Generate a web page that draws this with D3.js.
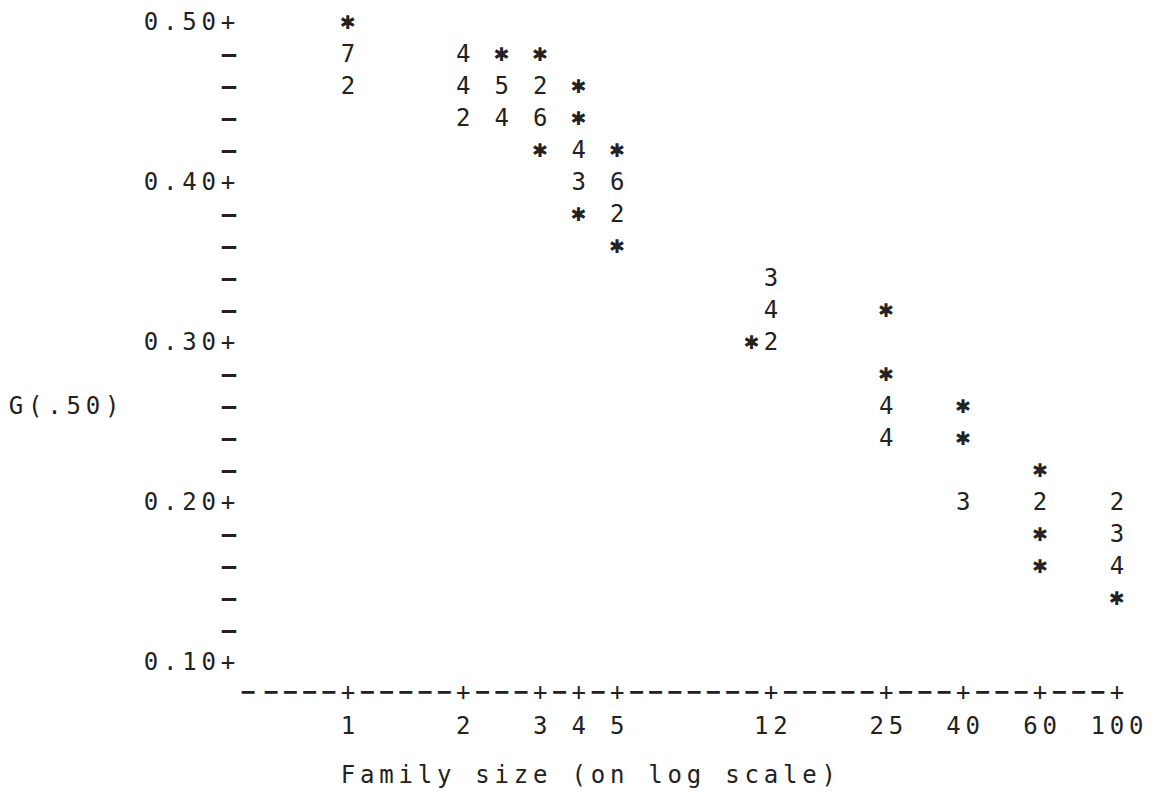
<!DOCTYPE html>
<html>
<head>
<meta charset="utf-8">
<script src="https://cdn.jsdelivr.net/npm/d3@7"></script>
<style>
  html, body { margin: 0; padding: 0; background: #ffffff; }
  svg { display: block; }
  text { font-family: "DejaVu Sans Mono", "Liberation Mono", monospace; fill: #222; }
</style>
</head>
<body>
<svg id="chart" width="1159" height="794"></svg>
<script>
// ---------- data ----------
// family size of each plotted position
const familySizes = [1, 1, 1,
  2, 2, 2,
  2.5, 2.5, 2.5,
  3, 3, 3, 3,
  4, 4, 4, 4, 4,
  5, 5, 5, 5,
  11, 12, 12, 12,
  25, 25, 25, 25,
  40, 40, 40,
  60, 60, 60, 60,
  100, 100, 100, 100];
// G(.50) value of each plotted position
const gValues = [0.50, 0.48, 0.46,
  0.48, 0.46, 0.44,
  0.48, 0.46, 0.44,
  0.48, 0.46, 0.44, 0.42,
  0.46, 0.44, 0.42, 0.40, 0.38,
  0.42, 0.40, 0.38, 0.36,
  0.30, 0.34, 0.32, 0.30,
  0.32, 0.28, 0.26, 0.24,
  0.26, 0.24, 0.20,
  0.22, 0.20, 0.18, 0.16,
  0.20, 0.18, 0.16, 0.14];
// number of coinciding observations (1 is printed as *)
const counts = [1, 7, 2,
  4, 4, 2,
  1, 5, 4,
  1, 2, 6, 1,
  1, 1, 4, 3, 1,
  1, 6, 2, 1,
  1, 3, 4, 2,
  1, 1, 4, 4,
  1, 1, 3,
  1, 2, 1, 1,
  2, 3, 4, 1];

const xTickValues = [1, 2, 3, 4, 5, 12, 25, 40, 60, 100];
const yTickValues = d3.range(10, 51, 2).map(v => v / 100);
const yTitle = "G(.50)";
const xTitle = "Family size (on log scale)";

// ---------- layout ----------
const FS = 24;              // font size
const CW = 19.225;          // printer column width
const COLS_PER_DECADE = 20;
const x0 = 348;             // column of family size 1
const yAxisX = 228;
const axisLineY = 692;

const svg = d3.select("#chart");

// log scale in printer columns, snapped to the character grid
const xCol = d3.scaleLog().domain([1, 100]).range([0, 2 * COLS_PER_DECADE]);
const colToPx = d3.scaleLinear().domain([0, 1]).range([x0, x0 + CW]);
const x = v => colToPx(Math.round(xCol(v)));

const y = d3.scaleLinear().domain([0.10, 0.50]).range([662, 22]);

// helper: put a string on the character grid
function gridChars(str, cx, cy, align) {
  const n = str.length;
  let start;
  if (align === "end") start = cx - (n - 1) * CW;
  else if (align === "start") start = cx;
  else start = cx - (n - 1) * CW / 2;
  return str.split("").map((ch, i) => ({ ch, x: start + i * CW, y: cy }));
}
function drawChars(g, items, cls) {
  g.selectAll("text." + cls)
    .data(items)
    .join("text")
    .attr("class", cls)
    .attr("x", d => d.x)
    .attr("y", d => d.y)
    .attr("dy", "0.35em")
    .attr("text-anchor", "middle")
    .attr("font-size", FS)
    .attr("font-weight", d => (d.ch === "–" || d.ch === "−") ? "bold" : null)
    .text(d => d.ch);
}

// ---------- y axis ----------
const yAxisG = svg.append("g");
let yItems = [];
yTickValues.forEach(v => {
  const major = Math.round(v * 100) % 10 === 0;
  if (major) yItems = yItems.concat(gridChars(d3.format(".2f")(v) + "+", yAxisX, y(v), "end"));
  else yItems.push({ ch: "–", x: yAxisX + 1, y: y(v) });
});
drawChars(yAxisG, yItems, "ytick");

// y title
drawChars(svg.append("g"), gridChars(yTitle, 16, y(0.26), "start"), "ytitle");

// ---------- x axis ----------
const xAxisG = svg.append("g");
const tickCols = new Set(xTickValues.map(v => Math.round(xCol(v))));
const lineItems = d3.range(-5, 2 * COLS_PER_DECADE + 1).map(c => ({
  ch: tickCols.has(c) ? "+" : "−", x: colToPx(c) - (c === -5 ? 4 : 0), y: axisLineY
}));
drawChars(xAxisG, lineItems, "xline");

let xLabelItems = [];
xTickValues.forEach(v => {
  xLabelItems = xLabelItems.concat(gridChars(String(v), x(v), 726, "middle"));
});
drawChars(xAxisG, xLabelItems, "xlabel");

// x title
drawChars(svg.append("g"), gridChars(xTitle, x(1), 775, "start"), "xtitle");

// ---------- points ----------
const pts = familySizes.map((f, i) => ({ f, g: gValues[i], n: counts[i] }));
svg.append("g").selectAll("text")
  .data(pts)
  .join("text")
  .attr("x", d => x(d.f))
  .attr("y", d => y(d.g))
  .attr("text-anchor", "middle")
  .attr("dy", d => d.n === 1 ? "0.36em" : "0.35em")
  .attr("font-size", d => d.n === 1 ? 19 : FS)
  .style("font-family", d => d.n === 1 ? "'DejaVu Sans', sans-serif" : null)
  .text(d => d.n === 1 ? "✱" : String(d.n));
</script>
</body>
</html>
